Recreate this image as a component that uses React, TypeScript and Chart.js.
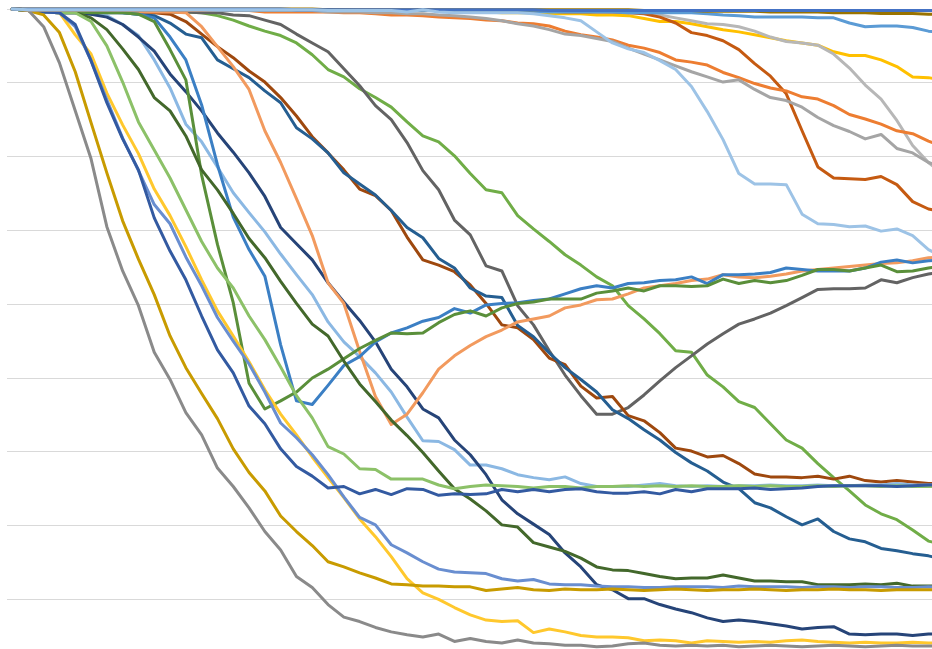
import { useEffect, useRef } from "react";
import { Chart, registerables } from "chart.js";

Chart.register(...registerables);

// 60 periods along the horizontal axis (axis hidden in the original)
const periods: number[] = Array.from({ length: 60 }, (_, i) => i);
// Gridlines every 10 units, value 0 at the top
const gridStep = 10;
const axisMax = 90;

// Series values (drop from the top line, in axis units)
const lightBlueTop = [0,0.1,0.1,0.1,0.1,0.1,0.1,0.1,0.1,0.1,0.1,0.1,0.1,0.1,0.1,0.1,0.1,0.1,0.1,0.1,0.2,0.2,0.2,0.2,0.2,0.4,0.1,0.4,0.5,0.5,0.5,0.5,0.5,0.65,0.9,1.2,1.6,3.1,4.6,5.4,5.9,7.0,8.2,10.5,13.9,17.7,22.3,23.7,23.7,23.8,27.8,29.1,29.2,29.5,29.4,30.1,29.8,30.7,32.6,33.7];
const blueTop = [0,0,0,0,0,0,0,0,0,0,0,0,0,0,0,0,0,0,0.1,0.1,0.1,0.1,0.1,0.1,0.1,0.1,0.1,0.1,0.1,0.1,0.1,0.1,0.1,0.1,0.2,0.2,0.2,0.2,0.2,0.2,0.2,0.2,0.2,0.2,0.2,0.2,0.2,0.2,0.2,0.2,0.2,0.2,0.2,0.2,0.2,0.2,0.2,0.2,0.2,0.2];
const oliveTop = [0,0,0,0,0,0,0,0,0,0,0,0,0,0,0,0,0,0,0,0,0.1,0.1,0.1,0.1,0.1,0.1,0.1,0.1,0.1,0.1,0.1,0.1,0.1,0.1,0.1,0.1,0.1,0.1,0.1,0.1,0.2,0.2,0.2,0.2,0.3,0.3,0.3,0.3,0.4,0.4,0.4,0.4,0.5,0.5,0.5,0.6,0.6,0.6,0.7,0.7];
const skyTop = [0,0.1,0.1,0.1,0.1,0.1,0.1,0.1,0.1,0.1,0.1,0.1,0.1,0.1,0.1,0.1,0.1,0.1,0.1,0.1,0.1,0.2,0.2,0.2,0.2,0.2,0.2,0.2,0.3,0.3,0.3,0.3,0.3,0.3,0.4,0.4,0.4,0.4,0.4,0.5,0.5,0.5,0.5,0.5,0.65,0.8,0.9,1.1,1.1,1.1,1.1,1.2,1.2,1.9,2.4,2.3,2.3,2.5,3.0,3.2];
const grayTop = [0,0.1,0.1,0.1,0.1,0.1,0.1,0.1,0.1,0.1,0.1,0.1,0.1,0.2,0.2,0.2,0.2,0.2,0.2,0.2,0.4,0.4,0.4,0.5,0.5,0.65,0.65,0.8,0.9,1.1,1.3,1.6,2.0,2.3,2.8,3.4,3.6,4.0,4.4,5.3,6.1,6.9,7.7,8.5,9.2,9.9,9.6,10.9,12.0,12.4,13.3,14.7,15.8,16.6,17.6,17.0,18.9,19.5,20.8,21.5];
const orangeTop = [0,0.1,0.1,0.1,0.1,0.1,0.1,0.1,0.1,0.1,0.1,0.2,0.2,0.2,0.2,0.2,0.4,0.4,0.4,0.4,0.4,0.5,0.5,0.65,0.8,0.8,0.9,1.1,1.2,1.3,1.5,1.6,1.9,2.0,2.3,3.0,3.5,3.8,4.2,4.9,5.3,5.9,6.9,7.2,7.6,8.6,9.3,10.1,10.7,11.1,11.9,12.2,13.1,14.3,14.9,15.6,16.5,16.9,17.9,18.7];
const rustTop = [0,0.1,0.1,0.1,0.1,0.1,0.1,0.1,0.1,0.1,0.1,0.1,0.1,0.1,0.1,0.1,0.1,0.1,0.1,0.1,0.2,0.2,0.2,0.2,0.2,0.2,0.2,0.2,0.2,0.2,0.2,0.3,0.3,0.3,0.3,0.4,0.4,0.4,0.4,0.5,0.65,1.1,1.9,3.2,3.6,4.3,5.5,7.4,9.1,11.5,16.5,21.4,22.9,23.0,23.1,22.7,23.8,26.1,27.1,27.5];
const silverTop = [0,0.1,0.1,0.1,0.1,0.1,0.1,0.1,0.1,0.1,0.1,0.1,0.1,0.1,0.1,0.1,0.1,0.1,0.1,0.1,0.1,0.1,0.2,0.2,0.2,0.2,0.2,0.2,0.2,0.2,0.2,0.2,0.3,0.3,0.3,0.3,0.3,0.3,0.4,0.4,0.5,0.8,1.2,1.6,2.0,2.1,2.4,3.0,3.8,4.4,4.6,4.9,6.1,8.0,10.3,12.2,15.1,18.5,20.8,22.5];
const goldTop = [0,0.1,0.1,0.1,0.1,0.1,0.1,0.1,0.1,0.1,0.1,0.1,0.1,0.1,0.1,0.1,0.1,0.1,0.1,0.1,0.2,0.2,0.2,0.2,0.2,0.2,0.2,0.2,0.4,0.4,0.4,0.5,0.5,0.5,0.65,0.65,0.65,0.8,0.8,0.9,1.3,1.7,1.7,2.0,2.4,2.8,3.1,3.5,3.9,4.3,4.6,4.9,5.8,6.3,6.3,6.9,7.8,9.2,9.3,9.7];

const grayLow = [0,0.1,2.4,7.3,13.8,20.3,29.5,35.5,40.2,46.5,50.2,54.7,57.7,62.2,64.7,67.6,70.8,73.3,76.9,78.4,80.7,82.4,83.0,83.8,84.4,84.8,85.1,84.7,85.7,85.3,85.7,85.9,85.5,85.9,86.0,86.2,86.2,86.4,86.3,86.0,85.9,86.2,86.3,86.2,86.3,86.2,86.4,86.3,86.2,86.3,86.4,86.3,86.2,86.3,86.4,86.3,86.2,86.3,86.3,86.3];
const darkGold = [0,0.2,0.8,3.2,8.5,15.4,22.2,28.7,33.9,38.7,44.3,48.6,52.1,55.5,59.6,62.8,65.3,68.7,70.8,72.7,74.9,75.6,76.4,77.1,77.9,78.0,78.2,78.2,78.3,78.3,78.8,78.6,78.4,78.7,78.8,78.6,78.7,78.7,78.6,78.7,78.8,78.7,78.6,78.7,78.8,78.7,78.7,78.6,78.7,78.8,78.7,78.7,78.6,78.7,78.7,78.8,78.7,78.7,78.7,78.7];
const royalBlue = [0,0.2,0.4,0.5,2.1,7.0,12.7,17.6,21.8,28.3,32.8,36.7,41.6,46.2,49.3,53.8,56.2,59.6,62.0,63.3,64.9,64.7,65.7,65.1,65.8,65.0,65.1,65.9,65.7,65.8,65.7,65.1,65.4,65.1,65.4,65.1,65.0,65.4,65.6,65.6,65.4,65.7,65.1,65.4,65.0,65.0,65.0,64.9,65.1,65.0,64.9,64.7,64.6,64.6,64.6,64.6,64.7,64.6,64.5,64.5];
const cornflower = [0,0.2,0.4,0.5,2.4,7.0,12.3,17.5,21.9,26.5,29.1,33.6,37.5,41.8,45.0,48.1,51.9,56.1,58.1,60.4,63.1,66.1,68.9,69.9,72.6,73.7,74.9,75.9,76.3,76.4,76.5,77.2,77.5,77.3,77.9,78.0,78.0,78.2,78.3,78.3,78.4,78.4,78.3,78.3,78.3,78.4,78.2,78.3,78.3,78.3,78.4,78.3,78.3,78.4,78.3,78.3,78.4,78.4,78.3,78.4];
const yellowLow = [0,0.2,0.4,0.5,3.5,6.1,11.4,15.7,19.6,24.4,28.0,32.2,36.7,40.9,44.3,47.8,51.6,54.9,57.7,60.7,63.5,66.2,69.1,71.5,74.2,77.2,79.1,80.0,81.1,82.1,82.8,83.0,82.9,84.5,84.0,84.4,84.9,85.1,85.1,85.2,85.6,85.5,85.6,85.9,85.6,85.7,85.8,85.7,85.8,85.6,85.5,85.7,85.8,85.9,85.8,85.9,85.9,85.8,85.9,85.9];
const paleGreen = [0,0.2,0.4,0.5,0.5,1.7,5.0,9.9,15.3,19.1,22.9,27.2,31.5,35.1,37.8,41.6,44.8,48.5,52.4,55.4,59.3,60.3,62.3,62.4,63.7,63.7,63.7,64.5,65.0,64.7,64.5,64.6,64.7,64.9,64.7,64.7,64.9,64.7,64.7,64.6,64.7,64.6,64.7,64.6,64.7,64.7,64.6,64.7,64.6,64.7,64.7,64.6,64.7,64.6,64.6,64.7,64.6,64.7,64.7,64.7];
const forest = [0,0.2,0.4,0.5,0.5,1.2,2.8,5.4,8.2,12.0,13.8,17.2,21.8,24.5,27.7,31.1,33.7,36.9,39.9,42.7,44.3,47.7,50.8,53.2,55.7,57.8,60.1,62.6,65.0,66.4,68.0,69.9,70.2,72.3,72.9,73.5,74.4,75.6,76.0,76.1,76.5,76.9,77.2,77.1,77.1,76.7,77.1,77.5,77.5,77.6,77.6,78.0,78.0,78.0,77.9,78.0,77.8,78.2,78.2,78.2];
const fernRebound = [0,0.2,0.4,0.4,0.4,0.5,0.5,0.5,0.7,1.7,5.5,9.6,22.5,31.9,39.8,50.7,54.2,53.1,51.9,50.0,48.8,47.4,46.0,44.9,43.9,44.0,43.9,42.5,41.4,40.9,41.6,40.5,39.9,39.7,39.3,39.3,39.3,38.5,38.2,37.8,38.2,37.5,37.5,37.6,37.5,36.6,37.2,36.8,37.1,36.8,36.1,35.3,35.3,35.5,35.1,34.7,35.6,35.5,35.1,34.8];
const azureRebound = [0,0.2,0.2,0.4,0.4,0.4,0.4,0.5,0.7,1.2,3.8,6.9,13.0,21.1,28.2,32.6,36.2,45.5,53.1,53.6,51.0,48.3,47.1,45.1,43.9,43.2,42.3,41.8,40.6,41.2,40.1,39.9,39.8,39.5,39.3,38.6,37.9,37.5,37.8,37.2,37.1,36.8,36.7,36.3,37.2,36.0,36.0,35.9,35.7,35.1,35.3,35.5,35.5,35.5,35.1,34.3,34.0,34.4,34.1,34.0];
const salmonRebound = [0,0.1,0.2,0.2,0.2,0.2,0.4,0.4,0.4,0.4,0.4,0.5,2.4,5.1,7.8,10.9,16.5,20.8,25.7,30.7,37.1,39.9,46.4,52.5,56.3,54.9,52.0,48.8,47.0,45.6,44.4,43.5,42.4,42.0,41.6,40.5,40.1,39.4,39.3,38.6,37.8,37.5,37.2,36.8,36.6,36.0,36.3,36.4,36.2,35.9,35.5,35.3,35.1,34.9,34.7,34.5,34.4,34.1,33.7,33.6];
const navy = [0,0.2,0.4,0.5,0.5,0.7,1.1,2.1,3.8,5.7,8.8,11.2,13.8,16.8,19.4,22.2,25.4,29.6,31.8,34.0,37.1,39.7,42.2,45.1,48.8,51.2,54.2,55.4,58.4,60.4,63.1,66.5,68.4,69.8,71.2,73.7,75.6,78.0,78.7,79.9,79.9,80.7,81.3,81.8,82.5,83.0,82.8,83.0,83.3,83.6,84.0,83.8,83.7,84.7,84.8,84.7,84.7,84.9,84.7,84.7];
const skyLow = [0,0.2,0.4,0.5,0.5,0.7,0.9,2.1,3.6,6.9,10.7,15.6,18.0,21.4,24.9,27.6,30.2,33.2,36.0,38.7,42.4,45.1,47.1,49.3,51.9,55.3,58.5,58.6,59.7,61.8,61.8,62.3,63.1,63.5,63.8,63.4,64.3,64.7,64.7,64.7,64.5,64.3,64.6,64.7,64.6,64.7,64.6,64.6,64.5,64.6,64.6,64.5,64.6,64.6,64.5,64.5,64.3,64.5,64.5,64.5];
const steel = [0,0.1,0.2,0.2,0.4,0.4,0.5,0.5,0.7,0.9,1.9,3.4,3.9,6.9,8.1,9.3,11.1,12.7,16.1,17.6,19.5,22.2,23.7,25.2,27.3,29.6,31.0,33.8,35.1,37.8,38.9,39.1,42.9,44.4,46.6,48.6,50.2,51.9,54.3,55.5,57.0,58.4,60.1,61.5,62.6,64.1,65.0,66.9,67.6,68.8,69.9,69.1,70.8,71.8,72.2,73.1,73.4,73.8,74.1,74.6];
const brown = [0,0.1,0.2,0.2,0.2,0.4,0.4,0.4,0.5,0.5,0.7,1.7,3.4,5.1,6.6,8.4,9.9,12.0,14.5,17.3,19.5,21.8,24.4,25.3,27.3,30.9,34.0,34.7,35.6,37.4,39.9,42.8,43.2,44.8,47.3,48.2,51.1,52.7,52.5,55.1,55.8,57.4,59.5,59.9,60.7,60.5,61.6,63.0,63.4,63.4,63.5,63.3,63.7,63.3,63.9,64.1,63.9,64.1,64.3,64.3];
const charcoalRebound = [0,0.1,0.1,0.1,0.2,0.2,0.2,0.2,0.4,0.4,0.4,0.4,0.5,0.5,0.8,0.9,1.5,2.1,3.4,4.6,5.8,8.1,10.4,13.1,15.0,18.1,21.9,24.5,28.6,30.6,34.8,35.5,40.2,42.8,46.3,49.6,52.4,54.9,54.9,54.0,52.3,50.4,48.6,47.0,45.4,44.0,42.7,42.0,41.2,40.2,39.1,38.0,37.9,37.9,37.8,36.7,37.1,36.4,35.9,35.6];
const grass = [0,0.1,0.1,0.1,0.2,0.2,0.2,0.2,0.4,0.4,0.4,0.4,0.5,0.9,1.5,2.3,3.0,3.6,4.6,6.2,8.2,9.2,10.8,12.0,13.3,15.3,17.2,18.0,19.9,22.3,24.5,24.9,28.0,29.8,31.5,33.3,34.7,36.3,37.5,40.2,42.0,44.0,46.3,46.5,49.6,51.2,53.2,54.0,56.2,58.4,59.5,61.6,63.5,65.3,67.2,68.4,69.2,70.6,72.1,72.6];

const seriesValues = [
  lightBlueTop, blueTop, oliveTop, skyTop, grayTop, orangeTop, rustTop, silverTop, goldTop,
  grayLow, darkGold, royalBlue, cornflower, yellowLow, paleGreen, forest, fernRebound,
  azureRebound, salmonRebound, navy, skyLow, steel, brown, charcoalRebound, grass,
];
const seriesColors = [
  "#9DC3E6", "#4472C4", "#997300", "#5B9BD5", "#A5A5A5", "#ED7D31", "#C55A11", "#B7B7B7", "#FFC000",
  "#8A8A8A", "#C89B00", "#335AA1", "#698ED0", "#FFC82D", "#8CC168", "#43682B", "#5A8F3A",
  "#3B7FC4", "#F29A5E", "#264478", "#8BB8E3", "#255E91", "#9E480E", "#636363", "#70AD47",
];

export default function App() {
  const canvasRef = useRef<HTMLCanvasElement | null>(null);

  useEffect(() => {
    const canvas = canvasRef.current;
    if (!canvas) return;
    const chart = new Chart(canvas, {
      type: "line",
      data: {
        datasets: seriesValues.map((vals, k) => ({
          label: "S" + (k + 1),
          data: vals.map((v, i) => ({ x: periods[i], y: v })),
          borderColor: seriesColors[k],
          backgroundColor: seriesColors[k],
          borderWidth: 3,
          pointRadius: 0,
          pointHoverRadius: 0,
          tension: 0,
          borderJoinStyle: "round" as const,
          borderCapStyle: "round" as const,
          fill: false,
          clip: false as any,
        })),
      },
      options: {
        animation: false,
        responsive: false,
        devicePixelRatio: 1,
        events: [],
        layout: { padding: { top: 9, left: 7.3, right: 11, bottom: 16.8 } },
        plugins: { legend: { display: false }, tooltip: { enabled: false }, title: { display: false } },
        scales: {
          x: {
            type: "linear",
            display: false,
            min: -0.3,
            max: periods[periods.length - 1] + 0.3,
          },
          y: {
            type: "linear",
            reverse: true,
            min: 0,
            max: axisMax,
            border: { display: false },
            grid: { color: "#D9D9D9", lineWidth: 1, drawTicks: false },
            ticks: { display: false, stepSize: gridStep },
          },
        },
      },
    });
    return () => chart.destroy();
  }, []);

  return (
    <div
      style={{
        position: "fixed",
        left: 0,
        top: 0,
        width: 932,
        height: 649,
        overflow: "hidden",
        background: "#ffffff",
      }}
    >
      <canvas ref={canvasRef} width={960} height={690} style={{ display: "block", width: 960, height: 690 }} />
    </div>
  );
}
